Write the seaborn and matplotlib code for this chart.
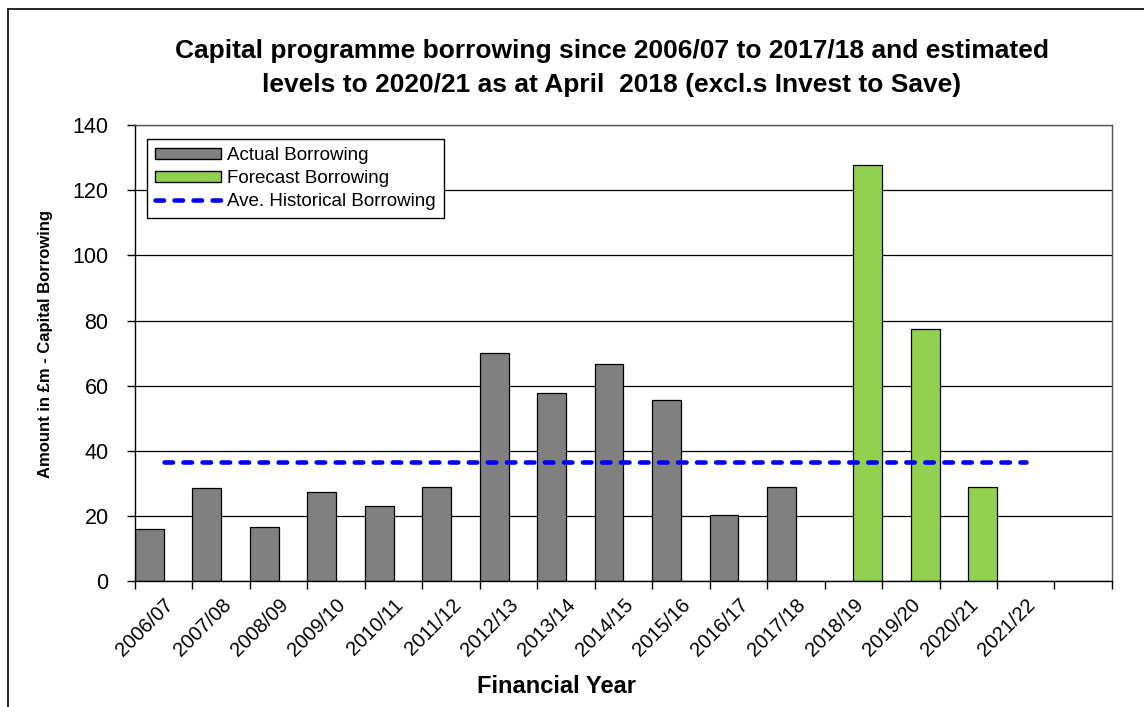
"""Capital programme borrowing chart: actual vs forecast with historical average."""

import pandas as pd
import matplotlib
matplotlib.use("Agg")
import matplotlib.pyplot as plt
import matplotlib.lines as mlines
import matplotlib.patches as mpatches
import seaborn as sns

# data (£m)
years = ["2006/07", "2007/08", "2008/09", "2009/10", "2010/11", "2011/12",
         "2012/13", "2013/14", "2014/15", "2015/16", "2016/17", "2017/18",
         "2018/19", "2019/20", "2020/21", "2021/22"]
actual = [16.0, 28.5, 16.7, 27.3, 23.2, 28.8, 69.9, 57.8, 66.6, 55.6,
          20.4, 28.9, None, None, None, None]
forecast = [None, None, None, None, None, None, None, None, None, None,
            None, None, 127.8, 77.3, 28.8, None]
avg_borrowing = [36.7, 36.7, 36.7, 36.7, 36.7, 36.7, 36.7, 36.7, 36.7, 36.7,
                 36.7, 36.7, 36.7, 36.7, 36.7, 36.7]
y_ticks = [0, 20, 40, 60, 80, 100, 120, 140]

gray = "#808080"
green = "#92D050"

# long-form table for seaborn
df = pd.DataFrame({
    "Year": years * 2,
    "Kind": ["Actual Borrowing"] * len(years) + ["Forecast Borrowing"] * len(years),
    "Amount": actual + forecast,
}).dropna()

sns.set_theme(style="white")
plt.rcParams["font.family"] = ["Liberation Sans", "DejaVu Sans"]
plt.rcParams["text.color"] = "black"
plt.rcParams["axes.labelcolor"] = "black"
plt.rcParams["xtick.color"] = "black"
plt.rcParams["ytick.color"] = "black"

fig = plt.figure(figsize=(11.44, 7.07), dpi=100)
ax = fig.add_axes([0.118, 0.178, 0.854, 0.645])

# chart area border (left and top edges visible)
fig.add_artist(mlines.Line2D([8 / 1144, 8 / 1144], [0, 1 - 9 / 707],
                             color="black", lw=1.2, transform=fig.transFigure))
fig.add_artist(mlines.Line2D([8 / 1144, 1], [1 - 9 / 707, 1 - 9 / 707],
                             color="black", lw=1.2, transform=fig.transFigure))

ax.set_axisbelow(True)
sns.barplot(data=df, x="Year", y="Amount", hue="Kind", order=years,
            hue_order=["Actual Borrowing", "Forecast Borrowing"],
            palette=[gray, green], width=1.0, gap=0, dodge=True,
            edgecolor="black", linewidth=0.9, saturation=1, legend=False, ax=ax)

idx = list(range(len(years)))
ax.plot(idx, avg_borrowing, color="#0000FF", lw=3.3,
        linestyle=(0, (1.85, 2.3)), dash_capstyle="round", zorder=3)

# axes, ticks, grid
ax.set_xlim(-0.5, len(years) + 0.5)
ax.set_ylim(0, 140)
ax.set_yticks(y_ticks)
ax.set_yticklabels([str(v) for v in y_ticks], fontsize=15.5)
ax.yaxis.grid(True, color="black", lw=0.9)
ax.xaxis.grid(False)

bounds = [i - 0.5 for i in range(len(years) + 2)]
ax.set_xticks(bounds)
ax.set_xticklabels([""] * len(bounds))
ax.set_xticks(idx, minor=True)
ax.set_xticklabels(years, minor=True, rotation=45, ha="right",
                   rotation_mode="anchor", fontsize=14.5)
ax.tick_params(axis="x", which="major", direction="out", length=6,
               width=1, color="black", bottom=True)
ax.tick_params(axis="x", which="minor", length=0, pad=10, bottom=True)
ax.tick_params(axis="y", direction="out", length=6, width=1,
               color="black", left=True, pad=13)

for side in ["left", "bottom"]:
    ax.spines[side].set_color("black")
    ax.spines[side].set_linewidth(1)
for side in ["right", "top"]:
    ax.spines[side].set_color("#555555")
    ax.spines[side].set_linewidth(1)

ax.set_xlabel("Financial Year", fontsize=17, fontweight="bold")
ax.xaxis.set_label_coords(0.431, -0.205)
ax.set_ylabel("Amount in £m - Capital Borrowing", fontsize=12,
              fontweight="bold")
ax.yaxis.set_label_coords(-0.084, 0.52)

fig.suptitle("Capital programme borrowing since 2006/07 to 2017/18 and estimated\n"
             "levels to 2020/21 as at April  2018 (excl.s Invest to Save)",
             x=0.535, y=0.945, fontsize=19, fontweight="bold", linespacing=1.55)

# legend
handles = [
    mpatches.Patch(facecolor=gray, edgecolor="black", lw=1, label="Actual Borrowing"),
    mpatches.Patch(facecolor=green, edgecolor="black", lw=1, label="Forecast Borrowing"),
    mlines.Line2D([], [], color="#0000FF", lw=3.3, linestyle=(0, (1.85, 2.3)),
                  dash_capstyle="round", label="Ave. Historical Borrowing"),
]
leg = ax.legend(handles=handles, loc="upper left", bbox_to_anchor=(0.012, 0.97),
                fontsize=13.5, frameon=True, fancybox=False, edgecolor="black",
                framealpha=1, handlelength=3.5, handleheight=0.5,
                labelspacing=0.3, borderpad=0.45, handletextpad=0.35,
                borderaxespad=0)
leg.get_frame().set_linewidth(1)

fig.savefig("out.png", dpi=100)
